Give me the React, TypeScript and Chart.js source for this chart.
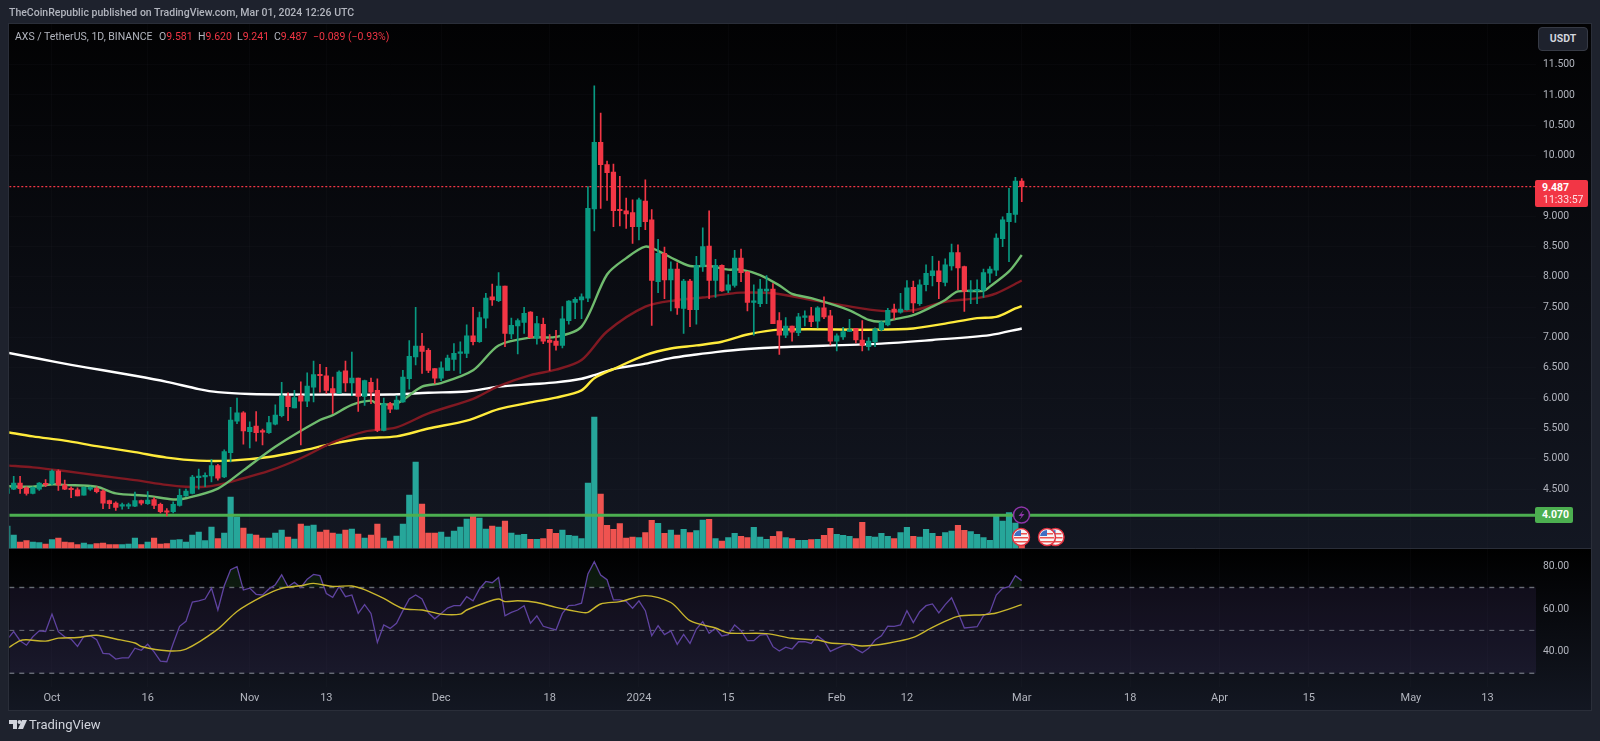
import React, { useEffect, useRef } from "react";
import { Chart, registerables } from "chart.js";

Chart.register(...registerables);

// Day index 0 = 24 Sep 2023, one entry per day up to 1 Mar 2024 (index 159).
const opens = [
  4.43,4.50,4.60,4.52,4.43,4.50,4.59,4.59,4.80,4.57,
  4.51,4.49,4.40,4.50,4.51,4.47,4.31,4.27,4.22,4.22,
  4.22,4.31,4.26,4.33,4.25,4.14,4.13,4.23,4.39,4.43,
  4.69,4.70,4.72,4.89,4.70,5.10,5.62,5.76,5.45,5.54,
  5.46,5.43,5.57,5.71,6.03,5.84,6.04,5.95,6.18,6.39,
  6.37,6.16,6.08,6.45,6.25,6.33,6.03,6.26,6.13,5.47,
  5.91,5.82,5.94,6.32,6.68,6.86,6.79,6.49,6.33,6.46,
  6.64,6.74,6.74,7.03,6.93,7.32,7.67,7.61,7.85,7.06,
  7.19,7.25,7.42,6.99,7.22,6.96,6.94,6.87,7.28,7.58,
  7.62,7.65,9.12,10.22,9.85,9.73,9.10,9.09,9.06,8.83,
  9.25,8.94,7.92,8.39,7.95,8.13,7.48,7.93,7.46,8.17,
  8.51,7.94,8.19,7.78,7.86,8.31,8.08,7.58,7.56,7.77,
  7.80,7.28,7.04,7.19,7.08,7.33,7.36,7.27,7.49,7.36,
  6.94,7.01,7.10,7.15,6.96,6.85,6.93,7.13,7.21,7.47,
  7.42,7.46,7.83,7.56,7.87,8.02,8.10,7.91,8.18,8.40,
  8.17,7.76,7.77,7.78,8.06,8.11,8.63,8.91,9.03,9.581,
];
const highs = [
  4.53,4.71,4.71,4.54,4.54,4.61,4.66,4.82,4.82,4.65,
  4.54,4.52,4.54,4.54,4.54,4.49,4.32,4.29,4.27,4.27,
  4.45,4.32,4.46,4.36,4.27,4.18,4.29,4.50,4.50,4.73,
  4.83,4.77,4.99,4.91,5.15,5.85,6.00,5.78,5.61,5.78,
  5.49,5.70,5.89,6.26,6.09,6.13,6.27,6.42,6.61,6.56,
  6.51,6.35,6.45,6.61,6.76,6.33,6.30,6.33,6.32,6.00,
  5.93,6.04,6.46,6.95,7.50,7.07,6.82,6.49,6.60,6.71,
  6.90,6.93,7.21,7.50,7.42,7.73,7.88,8.07,7.85,7.32,
  7.31,7.50,7.43,7.35,7.32,7.05,7.12,7.51,7.61,7.66,
  7.72,9.49,11.15,10.70,9.91,9.86,9.66,9.30,9.27,9.30,
  9.60,9.11,8.62,8.49,8.25,8.23,7.96,7.96,8.34,8.81,
  9.09,8.29,8.20,8.04,8.44,8.46,8.09,7.87,7.96,8.02,
  7.89,7.41,7.33,7.19,7.40,7.44,7.50,7.51,7.67,7.45,
  7.06,7.17,7.30,7.15,7.28,7.00,7.16,7.27,7.48,7.55,
  7.73,7.94,7.93,7.95,8.20,8.34,8.26,8.30,8.54,8.53,
  8.18,7.94,7.95,8.13,8.17,8.71,8.99,9.46,9.64,9.620,
];
const lows = [
  4.42,4.49,4.43,4.40,4.42,4.48,4.54,4.57,4.48,4.49,
  4.36,4.39,4.40,4.48,4.44,4.18,4.18,4.15,4.17,4.18,
  4.21,4.24,4.25,4.18,4.11,4.06,4.11,4.22,4.38,4.42,
  4.50,4.54,4.62,4.65,4.69,4.95,5.58,5.24,5.18,5.29,
  5.23,5.42,5.56,5.69,5.63,5.84,5.23,5.86,5.94,6.10,
  6.08,5.75,6.08,6.11,6.04,5.78,5.88,5.91,5.45,5.46,
  5.76,5.82,5.93,6.15,6.55,6.41,6.42,6.24,6.29,6.46,
  6.46,6.41,6.67,6.88,6.92,7.16,7.53,7.59,6.85,6.98,
  6.73,7.07,6.99,6.89,6.90,6.46,6.79,6.83,7.22,7.31,
  7.31,7.59,8.76,9.13,9.26,8.83,8.84,8.80,8.55,8.61,
  8.78,7.20,7.74,7.64,7.44,7.38,7.07,7.18,7.22,8.09,
  7.64,7.66,7.76,7.74,7.83,7.92,7.44,7.04,7.51,7.56,
  7.23,6.72,7.00,6.94,7.03,7.19,7.18,7.16,7.31,6.88,
  6.78,6.97,7.10,6.91,6.78,6.79,6.85,7.11,7.19,7.30,
  7.40,7.45,7.41,7.53,7.77,7.85,7.64,7.85,8.11,7.79,
  7.43,7.56,7.56,7.66,7.91,8.02,8.50,8.25,8.90,9.241,
];
const closes = [
  4.51,4.60,4.51,4.43,4.53,4.60,4.57,4.80,4.57,4.50,
  4.49,4.39,4.53,4.53,4.46,4.27,4.26,4.20,4.23,4.23,
  4.31,4.27,4.32,4.23,4.13,4.12,4.25,4.40,4.47,4.70,
  4.70,4.73,4.89,4.68,5.12,5.64,5.76,5.46,5.52,5.43,
  5.44,5.60,5.72,6.04,5.86,6.01,5.95,6.20,6.39,6.37,
  6.13,6.09,6.43,6.25,6.33,6.03,6.29,6.10,5.47,5.91,
  5.82,5.97,6.35,6.69,6.86,6.77,6.46,6.33,6.50,6.66,
  6.74,6.76,7.03,6.93,7.33,7.65,7.62,7.85,7.07,7.20,
  7.28,7.40,7.00,7.23,6.94,6.92,6.87,7.31,7.60,7.63,
  7.67,9.13,10.22,9.85,9.72,9.09,9.09,9.04,8.83,9.27,
  8.91,7.94,8.39,7.95,8.13,7.49,7.93,7.46,8.19,8.50,
  7.94,8.19,7.77,7.87,8.31,8.07,7.58,7.60,7.80,7.80,
  7.23,7.04,7.19,7.09,7.34,7.36,7.26,7.49,7.34,6.94,
  7.03,7.10,7.13,6.96,6.87,6.94,7.14,7.25,7.45,7.42,
  7.47,7.82,7.57,7.87,8.06,8.10,7.92,8.20,8.40,8.15,
  7.76,7.78,7.79,8.07,8.13,8.64,8.94,9.05,9.58,9.487,
];
// Relative volume.
const volumes = [
  22,13,6,7.3,6,5.3,4,8.3,10,6,
  5.3,3.3,5,3.3,4.3,5,3.3,3.3,3.3,4,
  10,3.3,6,10,4,4.3,8,8.3,6,13,
  16,7.3,21,9.3,15,51,31,20,14,13,
  10,10,15,18,11,9,24,22,23,16,
  18,15,14,18,19,14,10,13,24,10,
  7,12,24,53,86,44,15,15,16,11,
  17,21,29,32,30,19,22,21,27,15,
  13,13.7,8.7,8.7,9.3,18.7,14.7,18,12.7,12,
  9.3,65,131,54,22.7,18.7,24.3,10,11,10.3,
  15.3,27.7,24.7,14.7,18,13,18.7,15.3,17.3,28,
  28.7,9.3,7,10.3,14.7,11.7,10.3,20.7,11,8.7,
  11.7,16.3,10.3,9.3,7.7,7.7,8.3,8.7,12.7,19.7,
  13.7,12.7,11.7,9.3,25.7,11.7,11,14.7,11.7,9.3,
  15.3,20.7,11.7,11,18.7,14.7,11.7,15.3,17,22.7,
  17.7,16.3,13.7,10.3,7.7,33,27,35.3,25,4,
];
const rsiValues = [
  45.9,49.4,45.2,43.1,47.0,49.8,49.5,57.6,49.4,47.0,
  45.9,42.5,47.2,47.5,45.6,39.3,39.0,36.6,37.2,37.2,
  41.7,40.7,43.5,40.0,35.7,35.4,43.9,51.9,54.2,63.2,
  63.8,64.6,69.7,59.5,70.8,78.3,79.7,68.8,69.7,66.8,
  66.5,69.3,71.3,75.9,70.3,72.4,70.0,73.9,76.1,75.5,
  67.2,65.4,70.5,65.7,66.5,57.9,62.0,57.9,44.4,52.5,
  50.9,53.3,59.2,64.6,66.5,64.6,58.2,55.4,57.9,60.4,
  61.5,61.6,65.7,63.8,69.3,72.8,72.2,74.7,56.8,58.4,
  59.5,61.5,53.3,56.8,51.9,51.1,50.2,57.9,61.5,61.8,
  62.7,76.3,82.0,75.8,73.6,64.2,64.2,63.5,60.3,63.8,
  59.2,47.5,52.2,48.0,49.7,43.5,48.1,43.9,50.6,54.1,
  48.6,51.0,47.4,48.0,52.5,49.9,45.2,45.2,47.8,48.1,
  42.4,40.4,42.2,41.3,44.7,44.7,43.9,47.4,45.2,40.2,
  41.6,42.9,43.8,41.3,39.6,41.6,45.5,47.5,52.0,51.9,
  52.5,59.2,53.6,58.7,61.5,62.3,58.1,62.0,65.2,58.4,
  51.1,51.4,51.7,56.8,58.4,66.5,69.6,70.4,75.5,73.2,
];

const rsiMaDays = [0,2,3,6,8,11,14,17,20,21,25,28,33,36,40,43,46,48,51,54,56,59,62,65,68,71,72,75,77,78,80,83,86,90,91,93,96,100,104,107,111,113,119,123,127,129,132,134,138,142,145,149,153,155,159];
const rsiMaValues = [41.6,45.2,45.6,45.0,46.4,46.7,47.7,46.0,44.1,42.5,40.5,41.3,50.6,58.8,65.8,69.6,70.8,71.9,70.5,70.7,69.0,64.9,60.2,59.5,57.6,57.6,59.5,63.0,64.6,63.4,63.8,63.0,60.7,58.4,58.4,62.3,63.4,66.2,63.0,54.5,51.1,48.8,48.5,46.3,45.5,44.1,43.6,42.7,44.0,46.7,51.4,56.5,57.3,58.1,62.0];

const emaWhiteDays = [0,5,10,15,20,25,30,33,38,44,52,60,66,72,77,82,86,90,92,95,100,104,108,111,116,121,137,145,154,159];
const emaWhite = [6.75,6.65,6.55,6.46,6.37,6.27,6.15,6.10,6.07,6.06,6.06,6.06,6.09,6.11,6.19,6.23,6.26,6.32,6.38,6.48,6.57,6.66,6.72,6.76,6.81,6.84,6.90,6.96,7.04,7.15];
const emaYellowDays = [0,4,9,14,20,25,30,35,41,46,51,56,61,66,72,77,82,86,90,92,95,100,104,108,112,116,121,136,142,147,152,155,158,159];
const emaYellow = [5.44,5.37,5.30,5.21,5.11,5.02,4.97,4.97,5.03,5.13,5.25,5.34,5.37,5.50,5.63,5.82,5.93,6.01,6.13,6.33,6.48,6.71,6.82,6.87,6.93,7.05,7.13,7.13,7.15,7.23,7.32,7.34,7.48,7.52];
const emaRedDays = [0,4,9,14,20,25,28,31,33,36,41,46,51,56,61,66,73,77,82,86,90,94,100,105,109,113,115,120,126,131,137,142,147,152,155,159];
const emaRed = [4.89,4.86,4.80,4.73,4.65,4.57,4.54,4.54,4.57,4.65,4.80,5.01,5.27,5.45,5.52,5.75,5.99,6.20,6.38,6.47,6.63,7.10,7.51,7.62,7.66,7.72,7.74,7.73,7.62,7.53,7.44,7.45,7.59,7.65,7.73,7.94];
const emaGreenDays = [0,4,7,9,14,17,22,26,28,33,37,42,49,51,54,57,58,61,65,68,73,77,82,86,90,94,97,100,102,104,107,110,113,115,118,121,123,126,132,135,137,139,142,145,147,149,153,154,157,159];
const emaGreen = [4.55,4.54,4.58,4.57,4.54,4.43,4.39,4.33,4.35,4.51,4.81,5.20,5.64,5.72,5.89,5.96,5.91,5.91,6.19,6.25,6.46,6.87,7.00,7.01,7.18,8.04,8.31,8.50,8.43,8.32,8.18,8.18,8.12,8.12,8.03,7.86,7.72,7.65,7.45,7.29,7.26,7.30,7.37,7.51,7.62,7.76,7.77,7.84,8.09,8.36];

const priceTicks = [4,4.5,5,5.5,6,6.5,7,7.5,8,8.5,9,10,10.5,11,11.5];
const rsiTicks = [40,60,80];
const rsiLevels = [70,50,30];
const timeTickDays = [7,22,38,50,68,85,99,113,130,141,159,176,190,204,220,232];
const timeTickLabels = ["Oct","16","Nov","13","Dec","18","2024","15","Feb","12","Mar","18","Apr","15","May","13"];
const lastPrice = 9.487;
const levelPrice = 4.07;

const UP = "#089981";
const DOWN = "#f23645";
const VOL_UP = "#26a69a";
const VOL_DOWN = "#ef5350";
const TIME_FONT = { family: "Roboto, sans-serif", size: 11 };
const AXIS_FONT = { family: "Roboto, sans-serif", size: 10.4 };
const GRID = "rgba(54,58,69,0.09)";

const X_MIN = 0.31;
const X_MAX = 239.6;

const zip = (days: number[], vals: number[]) => days.map((d, i) => ({ x: d, y: vals[i] }));

const backdrop = {
  id: "backdrop",
  // Keeps both right-hand value axes on the same strip next to the plot.
  afterLayout(chart: any) {
    const a = chart.chartArea.right;
    const s = chart.scales.rsi;
    s.left = a;
    s.right = a + 63;
    s.width = 63;
    s._labelItems = null;
    const y = chart.scales.y;
    y.left = a;
    y.right = a + 63;
    y._labelItems = null;
  },
  beforeDraw(chart: any) {
    const c = chart.ctx;
    const w = chart.width, h = chart.height;
    c.save();
    c.fillStyle = "#1e222d";
    c.fillRect(0, 0, w, h);
    const g1 = c.createLinearGradient(0, 24, 0, 548);
    g1.addColorStop(0, "#020203");
    g1.addColorStop(1, "#131722");
    c.fillStyle = g1;
    c.fillRect(9, 24, 1582, 524);
    const g2 = c.createLinearGradient(0, 549, 0, 710);
    g2.addColorStop(0, "#000000");
    g2.addColorStop(1, "#131722");
    c.fillStyle = g2;
    c.fillRect(9, 549, 1582, 161);
    c.strokeStyle = "#2a2e39";
    c.lineWidth = 1;
    c.strokeRect(8.5, 23.5, 1583, 687);
    c.beginPath();
    c.moveTo(9, 548.5);
    c.lineTo(1591, 548.5);
    c.stroke();
    c.restore();
  },
};

export default function App() {
  const ref = useRef<HTMLCanvasElement>(null);

  useEffect(() => {
    const days = closes.map((_, i) => i);
    const isUp = (i: number) => closes[i] >= opens[i];
    const span = (v: number) => [{ x: X_MIN, y: v }, { x: X_MAX, y: v }];
    const emaLine = (data: any[], color: string, order: number) => ({
      type: "line", data, yAxisID: "y", borderColor: color, borderWidth: 2.4,
      pointRadius: 0, tension: 0.3, order,
    });
    const chart = new Chart(ref.current as HTMLCanvasElement, {
      type: "bar",
      plugins: [backdrop],
      data: {
        datasets: [
          {
            type: "line", data: span(rsiLevels[0]), yAxisID: "rsi", borderWidth: 0, pointRadius: 0,
            fill: { target: { value: rsiLevels[2] } }, backgroundColor: "rgba(126,87,194,0.1)", order: 100,
          },
          ...rsiLevels.map((lv) => ({
            type: "line", data: span(lv), yAxisID: "rsi", borderColor: "rgba(120,123,134,0.85)",
            borderWidth: lv === 50 ? 1 : 1.4, borderDash: [5, 5], pointRadius: 0, order: 90,
          })),
          {
            type: "line", data: zip(days, rsiValues), yAxisID: "rsi", borderColor: "#5f43a0", borderWidth: 1.3,
            pointRadius: 0, tension: 0, order: 20,
            fill: { target: { value: 70 }, above: "rgba(76,175,80,0.13)", below: "rgba(0,0,0,0)" },
          },
          {
            type: "line", data: zip(rsiMaDays, rsiMaValues), yAxisID: "rsi", borderColor: "#c9b62d", borderWidth: 1.4,
            pointRadius: 0, tension: 0.3, order: 19,
          },
          {
            type: "bar", data: days.map((d) => ({ x: d, y: volumes[d] })), yAxisID: "vol", grouped: false,
            backgroundColor: days.map((d) => (isUp(d) ? VOL_UP : VOL_DOWN)), barThickness: 5.5, borderWidth: 0, order: 80,
          },
          { type: "line", data: span(levelPrice), yAxisID: "y", borderColor: "#4caf50", borderWidth: 3, pointRadius: 0, order: 70 },
          { type: "line", data: span(lastPrice), yAxisID: "y", borderColor: DOWN, borderWidth: 1.2, borderDash: [2, 2], pointRadius: 0, order: 65 },
          emaLine(zip(emaWhiteDays, emaWhite), "#ffffff", 60),
          emaLine(zip(emaYellowDays, emaYellow), "#ffeb3b", 59),
          emaLine(zip(emaRedDays, emaRed), "#801922", 58),
          emaLine(zip(emaGreenDays, emaGreen), "#6fbb6e", 57),
          {
            type: "bar", data: days.map((d) => ({ x: d, y: [lows[d], highs[d]] })), yAxisID: "y", grouped: false,
            backgroundColor: days.map((d) => (isUp(d) ? UP : DOWN)), barThickness: 1, borderWidth: 0, order: 5,
          },
          {
            type: "bar", data: days.map((d) => ({ x: d, y: [opens[d], closes[d]] })), yAxisID: "y", grouped: false,
            backgroundColor: days.map((d) => (isUp(d) ? UP : DOWN)), barThickness: 4.6, minBarLength: 1.5, borderWidth: 0, order: 4,
          },
        ] as any,
      },
      options: {
        responsive: false,
        animation: false,
        events: [],
        layout: { padding: { left: 9.3, top: 24, right: 0, bottom: 31 } },
        plugins: { legend: { display: false }, tooltip: { enabled: false } },
        scales: {
          x: {
            type: "linear", min: X_MIN, max: X_MAX, offset: false,
            grid: { offset: false, color: GRID, drawTicks: false },
            border: { display: false },
            afterBuildTicks: (s: any) => { s.ticks = timeTickDays.map((v) => ({ value: v })); },
            afterFit: (s: any) => { s.height = 23; },
            ticks: {
              autoSkip: false, maxRotation: 0, padding: 5, color: "#b2b5be", font: TIME_FONT,
              callback: (v: any) => timeTickLabels[timeTickDays.indexOf(v)],
            },
          },
          y: {
            type: "linear", position: "right", min: 1.238, max: 12.17,
            grid: { color: GRID, drawTicks: false },
            border: { display: false },
            afterBuildTicks: (s: any) => { s.ticks = priceTicks.map((v) => ({ value: v })); },
            afterFit: (s: any) => { s.width = 63; },
            ticks: { autoSkip: false, padding: 7, color: "#b2b5be", font: AXIS_FONT, callback: (v: any) => Number(v).toFixed(3) },
          },
          rsi: {
            type: "linear", position: "right", min: 23.6, max: 332.7,
            grid: { display: false, drawTicks: false },
            border: { display: false },
            afterBuildTicks: (s: any) => { s.ticks = rsiTicks.map((v) => ({ value: v })); },
            afterFit: (s: any) => { s.width = 1; },
            ticks: { autoSkip: false, padding: 7, color: "#b2b5be", font: AXIS_FONT, callback: (v: any) => Number(v).toFixed(2) },
          },
          vol: { type: "linear", display: false, min: -139, max: 524 },
        },
      } as any,
    });
    return () => chart.destroy();
  }, []);

  const txt = (left: number, top: number, color: string, extra: any = {}) => ({
    position: "absolute" as const, left, top, color, whiteSpace: "nowrap" as const, lineHeight: "14px",
    fontFamily: "Roboto, sans-serif", fontSize: 10.5, ...extra,
  });

  return (
    <div style={{ position: "fixed", left: 0, top: 0, width: 1600, height: 741, overflow: "hidden", background: "#1e222d" }}>
      <canvas ref={ref} width={1600} height={741} style={{ position: "absolute", left: 0, top: 0, width: 1600, height: 741 }} />
      <div style={txt(9, 6, "#b2b5be", { fontWeight: 500 })}>TheCoinRepublic published on TradingView.com, Mar 01, 2024 12:26 UTC</div>
      <div style={txt(15, 30, "#b2b5be")}>AXS / TetherUS, 1D, BINANCE</div>
      <div style={txt(159, 30, "#b2b5be")}>O<span style={{ color: DOWN }}>9.581</span></div>
      <div style={txt(198, 30, "#b2b5be")}>H<span style={{ color: DOWN }}>9.620</span></div>
      <div style={txt(237, 30, "#b2b5be")}>L<span style={{ color: DOWN }}>9.241</span></div>
      <div style={txt(274, 30, "#b2b5be")}>C<span style={{ color: DOWN }}>9.487</span></div>
      <div style={txt(313, 30, DOWN)}>−0.089 (−0.93%)</div>

      <div style={{ position: "absolute", left: 1538, top: 27, width: 48, height: 22, border: "1px solid #363a45", borderRadius: 4, background: "#1e222d", color: "#d1d4dc", fontFamily: "Roboto, sans-serif", fontSize: 10.5, fontWeight: 700, lineHeight: "22px", textAlign: "center" }}>USDT</div>

      <div style={{ position: "absolute", left: 1535, top: 180, width: 53, height: 27, background: DOWN, borderRadius: 2 }} />
      <div style={txt(1542, 181, "#ffffff", { fontWeight: 700 })}>9.487</div>
      <div style={txt(1543, 193, "#ffffff", { opacity: 0.85 })}>11:33:57</div>

      <div style={{ position: "absolute", left: 1535, top: 507, width: 38, height: 16, background: "#4caf50", borderRadius: 2 }} />
      <div style={txt(1542, 508, "#ffffff", { fontWeight: 700 })}>4.070</div>

      <svg style={{ position: "absolute", left: 1005, top: 500 }} width={70} height={50}>
        <circle cx={16.5} cy={15} r={8} fill="#131722" stroke="#8e35a8" strokeWidth={1.5} />
        <path d="M18.5 10 L13.5 16 L16.5 16 L14.5 20 L19.5 14 L16.5 14 Z" fill="#8e35a8" />
        {[50.5, 42, 16].map((cx, n) => (
          <g key={n}>
            <circle cx={cx} cy={37} r={8.5} fill="#f5f5f5" stroke="#e0303f" strokeWidth={1.5} />
            <rect x={cx - 6} y={33} width={12} height={1.5} fill="#ef5350" />
            <rect x={cx - 7} y={37} width={14} height={1.5} fill="#ef5350" />
            <rect x={cx - 6} y={41} width={12} height={1.5} fill="#ef5350" />
            <path d={`M${cx - 7} 36 A7 7 0 0 1 ${cx} 30 L${cx} 36 Z`} fill="#3f6fc4" />
          </g>
        ))}
      </svg>

      <svg style={{ position: "absolute", left: 9, top: 720 }} width={18} height={10}>
        <path d="M0 0 H8 V9 H4 V4 H0 Z" fill="#d1d4dc" />
        <circle cx={10.5} cy={2} r={2} fill="#d1d4dc" />
        <path d="M13 0 H18 L14 9 H9 Z" fill="#d1d4dc" />
      </svg>
      <div style={txt(29, 718, "#d1d4dc", { fontSize: 13 })}>TradingView</div>
    </div>
  );
}
